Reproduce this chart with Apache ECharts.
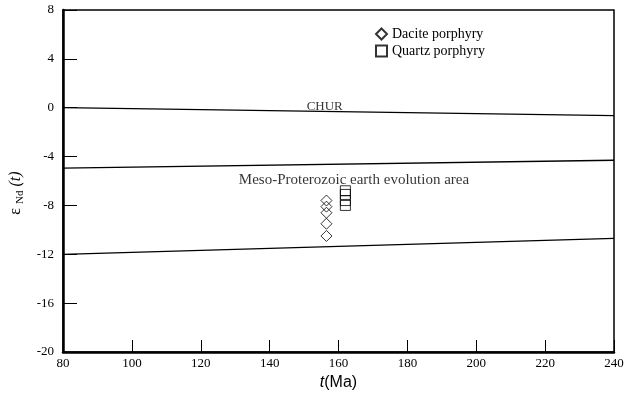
<!DOCTYPE html>
<html>
<head>
<meta charset="utf-8">
<script src="https://cdn.jsdelivr.net/npm/echarts@6/dist/echarts.min.js"></script>
<style>
  html, body { margin: 0; padding: 0; background: #fff; }
  #chart-container { width: 633px; height: 394px; }
</style>
</head>
<body>
<div id="chart-container"></div>
<script>
// data
let churLine = [[80, 0], [240, -0.65]];
let upperLine = [[80, -4.95], [240, -4.3]];
let lowerLine = [[80, -12], [240, -10.7]];
let dacite = [[156.5, -7.6], [156.5, -8.1], [156.5, -8.6], [156.5, -9.5], [156.5, -10.5]];
let quartz = [[162, -6.8], [162, -7.1], [162, -7.6], [162, -8.0]];
let xTicks = [80, 240, 20];
let yTicks = [-20, 8, 4];
let areaLabels = [
    { name: "CHUR", value: [156, -0.5], size: 13 },
    { name: "Meso-Proterozoic earth evolution area", value: [164.5, -6.6], size: 15 },
];

let dom = document.getElementById("chart-container");
let myChart = echarts.init(dom, null, { renderer: "canvas" });

let serif = "Liberation Serif";
let lineStyle = { color: "#000", width: 1.3 };

let option = {
    animation: false,
    grid: {
        left: 63,
        right: 19,
        top: 10,
        bottom: 42,
        containLabel: false,
        outerBoundsMode: "none",
        show: true,
        borderColor: "#000",
        borderWidth: 1.5,
    },
    legend: {
        orient: "vertical",
        left: 370,
        top: 22,
        itemWidth: 11,
        itemHeight: 11,
        itemGap: 3,
        textStyle: { fontFamily: serif, fontSize: 14, color: "#000" },
        data: ["Dacite porphyry", "Quartz porphyry"],
    },
    xAxis: {
        type: "value",
        min: xTicks[0],
        max: xTicks[1],
        interval: xTicks[2],
        name: "{i|t}(Ma)",
        nameLocation: "middle",
        nameGap: 22,
        nameTextStyle: {
            fontFamily: "Liberation Sans",
            fontSize: 16,
            color: "#000",
            rich: { i: { fontFamily: "Liberation Sans", fontSize: 16, fontStyle: "italic", color: "#000" } },
        },
        axisLine: { onZero: false, lineStyle: { color: "#000", width: 2.5 } },
        axisTick: { inside: true, length: 12, lineStyle: { color: "#000", width: 1 } },
        axisLabel: { fontFamily: serif, fontSize: 13, color: "#000", margin: 5 },
        splitLine: { show: false },
    },
    yAxis: {
        type: "value",
        min: yTicks[0],
        max: yTicks[1],
        interval: yTicks[2],
        name: "ε {s|Nd} {i|(t)}      ",
        nameLocation: "middle",
        nameRotate: 90,
        nameGap: 35,
        nameTextStyle: {
            fontFamily: serif,
            fontSize: 16,
            color: "#000",
            rich: {
                s: { fontFamily: serif, fontSize: 11, color: "#000", padding: [9, 0, 0, 0] },
                i: { fontFamily: serif, fontSize: 16, fontStyle: "italic", color: "#000" },
            },
        },
        axisLine: { onZero: false, lineStyle: { color: "#000", width: 2.5 } },
        axisTick: { inside: true, length: 14, lineStyle: { color: "#000", width: 1 } },
        axisLabel: { fontFamily: serif, fontSize: 13, color: "#000", margin: 9 },
        splitLine: { show: false },
    },
    series: [
        { type: "line", data: churLine, symbol: "none", lineStyle: lineStyle, silent: true },
        { type: "line", data: upperLine, symbol: "none", lineStyle: lineStyle, silent: true },
        { type: "line", data: lowerLine, symbol: "none", lineStyle: lineStyle, silent: true },
        {
            type: "scatter",
            data: areaLabels.map(function (d) {
                return { name: d.name, value: d.value, label: { fontSize: d.size } };
            }),
            symbolSize: 0,
            silent: true,
            z: 5,
            label: {
                show: true,
                position: "top",
                distance: 1,
                formatter: "{b}",
                fontFamily: serif,
                color: "#000",
            },
        },
        {
            name: "Dacite porphyry",
            type: "scatter",
            data: dacite,
            symbol: "diamond",
            symbolSize: [11, 11],
            itemStyle: { color: "rgba(255,255,255,0)", borderColor: "#000", borderWidth: 1 },
        },
        {
            name: "Quartz porphyry",
            type: "scatter",
            data: quartz,
            symbol: "rect",
            symbolSize: [10, 10],
            itemStyle: { color: "rgba(255,255,255,0)", borderColor: "#000", borderWidth: 1 },
        },
    ],
};

myChart.setOption(option);
window.addEventListener("resize", myChart.resize);
</script>
</body>
</html>
